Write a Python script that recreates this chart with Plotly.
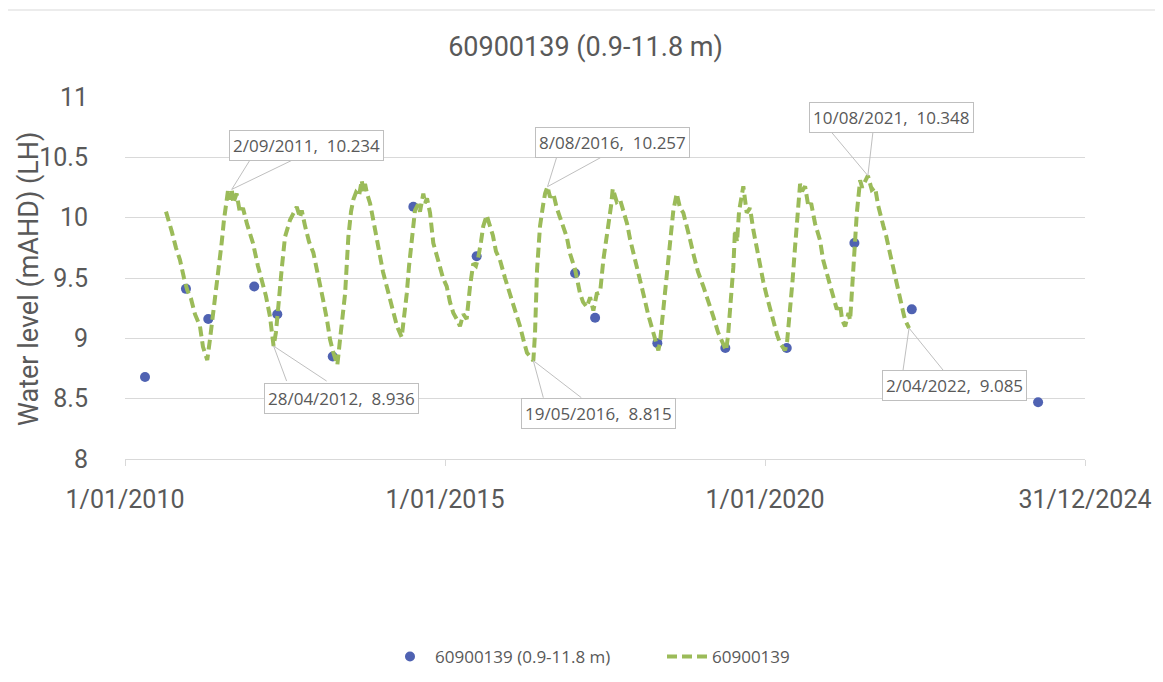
import datetime as dt
import plotly.graph_objects as go

# ---------------- data ----------------
# logger (continuous) series: decimal years and water level (mAHD)
line_years = [
    2010.641, 2010.677, 2010.734, 2010.797, 2010.859, 2010.922, 2010.973, 2011.031, 2011.094, 2011.172,
    2011.219, 2011.250, 2011.286, 2011.328, 2011.359, 2011.406, 2011.453, 2011.511, 2011.547, 2011.589,
    2011.609, 2011.625, 2011.669, 2011.692, 2011.745, 2011.797, 2011.844, 2011.906, 2012.000, 2012.078,
    2012.156, 2012.203, 2012.266, 2012.297, 2012.322, 2012.359, 2012.395, 2012.448, 2012.500, 2012.547,
    2012.578, 2012.625, 2012.683, 2012.734, 2012.761, 2012.813, 2012.875, 2012.942, 2013.016, 2013.094,
    2013.156, 2013.203, 2013.255, 2013.317, 2013.359, 2013.406, 2013.438, 2013.489, 2013.531, 2013.567,
    2013.609, 2013.656, 2013.698, 2013.723, 2013.750, 2013.781, 2013.828, 2013.875, 2013.922, 2013.984,
    2014.031, 2014.089, 2014.141, 2014.192, 2014.250, 2014.323, 2014.359, 2014.402, 2014.438, 2014.480,
    2014.531, 2014.578, 2014.609, 2014.661, 2014.688, 2014.719, 2014.766, 2014.817, 2014.859, 2014.922,
    2014.969, 2015.027, 2015.078, 2015.130, 2015.183, 2015.234, 2015.286, 2015.339, 2015.391, 2015.442,
    2015.484, 2015.520, 2015.563, 2015.598, 2015.652, 2015.703, 2015.750, 2015.797, 2015.859, 2015.938,
    2016.016, 2016.094, 2016.172, 2016.234, 2016.281, 2016.380, 2016.406, 2016.438, 2016.484, 2016.531,
    2016.563, 2016.600, 2016.641, 2016.692, 2016.745, 2016.797, 2016.844, 2016.901, 2016.953, 2017.031,
    2017.078, 2017.109, 2017.156, 2017.214, 2017.266, 2017.317, 2017.370, 2017.422, 2017.473, 2017.516,
    2017.552, 2017.594, 2017.620, 2017.641, 2017.683, 2017.734, 2017.786, 2017.844, 2017.891, 2017.942,
    2018.016, 2018.098, 2018.172, 2018.255, 2018.297, 2018.333, 2018.359, 2018.411, 2018.453, 2018.489,
    2018.531, 2018.567, 2018.620, 2018.672, 2018.723, 2018.781, 2018.828, 2018.880, 2018.953, 2019.036,
    2019.109, 2019.192, 2019.266, 2019.348, 2019.391, 2019.422, 2019.453, 2019.505, 2019.531, 2019.563,
    2019.594, 2019.625, 2019.661, 2019.714, 2019.766, 2019.817, 2019.870, 2019.922, 2019.973, 2020.027,
    2020.078, 2020.130, 2020.188, 2020.234, 2020.281, 2020.313, 2020.344, 2020.391, 2020.430, 2020.469,
    2020.508, 2020.547, 2020.578, 2020.625, 2020.677, 2020.719, 2020.781, 2020.859, 2020.906, 2020.964,
    2021.016, 2021.067, 2021.120, 2021.172, 2021.203, 2021.250, 2021.302, 2021.328, 2021.380, 2021.433,
    2021.484, 2021.516, 2021.606, 2021.641, 2021.667, 2021.719, 2021.766, 2021.848, 2021.891, 2021.953,
    2022.000, 2022.058, 2022.109, 2022.161, 2022.188, 2022.250,
]
line_levels = [
    10.05, 9.99, 9.88, 9.75, 9.65, 9.50, 9.40, 9.33, 9.20, 9.10,
    8.93, 8.88, 8.82, 8.99, 9.12, 9.29, 9.55, 9.79, 9.98, 10.17,
    10.22, 10.15, 10.234, 10.12, 10.20, 10.04, 10.08, 9.95, 9.79, 9.60,
    9.46, 9.35, 9.18, 9.02, 8.936, 9.05, 9.23, 9.57, 9.84, 9.93,
    9.98, 10.03, 10.09, 10.00, 10.06, 9.93, 9.80, 9.71, 9.50, 9.32,
    9.15, 8.99, 8.88, 8.78, 8.99, 9.20, 9.37, 9.84, 10.05, 10.15,
    10.21, 10.18, 10.31, 10.22, 10.28, 10.20, 10.12, 9.99, 9.85, 9.68,
    9.55, 9.43, 9.32, 9.21, 9.10, 9.01, 9.15, 9.37, 9.60, 9.79,
    10.06, 10.11, 10.05, 10.20, 10.12, 10.16, 10.04, 9.79, 9.70, 9.59,
    9.50, 9.43, 9.30, 9.21, 9.16, 9.10, 9.20, 9.16, 9.43, 9.62,
    9.60, 9.67, 9.80, 9.93, 10.02, 9.92, 9.85, 9.72, 9.65, 9.50,
    9.37, 9.22, 9.10, 8.97, 8.88, 8.815, 9.04, 9.57, 9.93, 10.10,
    10.20, 10.257, 10.17, 10.20, 10.08, 10.00, 9.92, 9.84, 9.70, 9.57,
    9.45, 9.37, 9.30, 9.26, 9.34, 9.23, 9.37, 9.38, 9.65, 9.80,
    9.93, 10.10, 10.24, 10.20, 10.13, 10.15, 10.05, 9.95, 9.82, 9.70,
    9.55, 9.37, 9.20, 9.04, 8.95, 8.90, 8.97, 9.23, 9.45, 9.65,
    9.88, 10.06, 10.20, 10.08, 10.04, 9.93, 9.82, 9.70, 9.55, 9.43,
    9.30, 9.18, 9.05, 8.94, 8.90, 9.02, 9.23, 9.59, 9.90, 9.80,
    10.05, 10.15, 10.26, 10.04, 10.08, 9.90, 9.75, 9.59, 9.47, 9.35,
    9.25, 9.12, 9.03, 8.96, 8.92, 8.90, 8.97, 9.21, 9.48, 9.76,
    10.02, 10.28, 10.22, 10.26, 10.09, 10.12, 9.95, 9.81, 9.65, 9.54,
    9.42, 9.35, 9.24, 9.28, 9.15, 9.10, 9.21, 9.15, 9.62, 10.04,
    10.31, 10.25, 10.348, 10.28, 10.23, 10.25, 10.10, 9.93, 9.85, 9.70,
    9.58, 9.46, 9.33, 9.21, 9.15, 9.085,
]

# manual readings
manual_years = [2010.313, 2010.953, 2011.302, 2012.020, 2012.380, 2013.245, 2014.505, 2015.495,
                2017.031, 2017.344, 2018.317, 2019.380, 2020.339, 2021.395, 2022.292, 2024.266]
manual_levels = [8.68, 9.41, 9.16, 9.43, 9.20, 8.85, 10.09, 9.68,
                 9.54, 9.17, 8.96, 8.92, 8.92, 9.79, 9.24, 8.47]

# labelled extremes
label_dates = ["2011-09-02", "2012-04-28", "2016-08-08", "2016-05-19", "2021-08-10", "2022-04-02"]
label_values = [10.234, 8.936, 10.257, 8.815, 10.348, 9.085]
label_texts = ["2/09/2011,  10.234", "28/04/2012,  8.936", "8/08/2016,  10.257",
               "19/05/2016,  8.815", "10/08/2021,  10.348", "2/04/2022,  9.085"]

tick_dates = ["2010-01-01", "2015-01-01", "2020-01-01", "2024-12-31"]
tick_texts = ["1/01/2010", "1/01/2015", "1/01/2020", "31/12/2024"]

title_text = "60900139 (0.9-11.8 m)"
manual_name = "60900139 (0.9-11.8 m)"
line_name = "60900139"
y_title = "Water level (mAHD) (LH)"


def to_date(y):
    yr = int(y)
    start = dt.datetime(yr, 1, 1)
    days = (dt.datetime(yr + 1, 1, 1) - start).days
    return start + dt.timedelta(days=(y - yr) * days)


line_x = [to_date(v) for v in line_years]
manual_x = [to_date(v) for v in manual_years]

# ---------------- style / layout ----------------
GREEN = "#9BBB59"
BLUE = "#4F62B2"
GREY_TXT = "#595959"
GRID = "#d9d9d9"
TICK_FONT = "Roboto, Open Sans, sans-serif"
ANN_FONT = "Open Sans, Roboto, sans-serif"

# page has an 8px body margin: figure is drawn from (8, 8)
W, H = 1155, 674
PL, PR, PT, PB = 117, 1077, 89, 451   # plot area in figure pixels
PW, PH = PR - PL, PB - PT


def px_x(sx):   # screen x -> paper fraction
    return (sx - 8 - PL) / PW


def px_y(sy):   # screen y -> paper fraction
    return (PB - (sy - 8)) / PH


# label box placement (pixel offsets from point) and leader endpoints
box_shift = [(75, 44), (68, -52), (65, 44), (65, -53), (24, 58), (45, -57)]
leader_ends = [((18, 29), (60, 29)), ((13, -35), (53, -35)), ((9, 29), (53, 29)),
               ((10, -37), (48, -37)), ((-36, 43), (5, 43)), ((-6, -42), (34, -42))]

fig = go.Figure()
fig.add_trace(go.Scatter(
    x=manual_x, y=manual_levels, mode="markers", name=manual_name,
    marker=dict(color=BLUE, size=10, line=dict(width=0)),
))
fig.add_trace(go.Scatter(
    x=line_x, y=line_levels, mode="lines", name=line_name,
    line=dict(color=GREEN, width=4, dash="10px,5px"),
))

shapes = []
for d, v, ends in zip(label_dates, label_values, leader_ends):
    for (dx, dy) in ends:
        shapes.append(dict(
            type="line", xref="x", yref="y", xsizemode="pixel", ysizemode="pixel",
            xanchor=d, yanchor=v, x0=0, y0=0, x1=dx, y1=dy,
            line=dict(color="#bfbfbf", width=1), layer="above",
        ))
# outer chart frame
shapes.append(dict(type="rect", xref="paper", yref="paper",
                   x0=px_x(3), x1=1.3, y0=-1.0, y1=px_y(10),
                   line=dict(color=GRID, width=1), layer="below"))

annotations = []
for d, v, t, (sx, sy) in zip(label_dates, label_values, label_texts, box_shift):
    annotations.append(dict(
        x=d, y=v, xref="x", yref="y", text=t, showarrow=False,
        xshift=sx, yshift=sy, font=dict(family=ANN_FONT, size=17, color=GREY_TXT),
        bgcolor="white", bordercolor="#bfbfbf", borderwidth=1, borderpad=3,
    ))
annotations.append(dict(
    x=px_x(29), y=px_y(279), xref="paper", yref="paper", text=y_title,
    textangle=-90, showarrow=False, xanchor="center", yanchor="middle",
    font=dict(family=TICK_FONT, size=27, color=GREY_TXT),
))

fig.update_layout(
    width=W, height=H,
    margin=dict(l=PL, r=W - PR, t=PT, b=H - PB, autoexpand=False),
    paper_bgcolor="white", plot_bgcolor="white",
    title=dict(text=title_text, x=0.5, xanchor="center", y=1 - (47 - 8) / H, yanchor="middle",
               font=dict(family=TICK_FONT, size=27, color=GREY_TXT)),
    showlegend=True,
    legend=dict(orientation="h", x=px_x(385), xanchor="left", y=px_y(657), yanchor="middle",
                font=dict(family=ANN_FONT, size=17, color=GREY_TXT), itemwidth=40,
                entrywidth=222, entrywidthmode="pixels",
                bgcolor="rgba(0,0,0,0)"),
    shapes=shapes,
    annotations=annotations,
)
fig.update_xaxes(
    type="date", range=["2010-01-01", "2024-12-31"], automargin=False,
    tickvals=tick_dates, ticktext=tick_texts,
    showgrid=False, showline=True, linecolor=GRID, linewidth=1,
    ticks="outside", ticklen=6, tickcolor=GRID,
    ticklabelstandoff=12,
    tickfont=dict(family=TICK_FONT, size=25, color=GREY_TXT),
    zeroline=False,
)
fig.update_yaxes(
    range=[8, 11], automargin=False, tickvals=[8, 8.5, 9, 9.5, 10, 10.5, 11],
    ticktext=["8", "8.5", "9", "9.5", "10", "10.5", "11"],
    showgrid=True, gridcolor=GRID, gridwidth=1, zeroline=False,
    showline=False, ticks="", ticklabelstandoff=36,
    tickfont=dict(family=TICK_FONT, size=25, color=GREY_TXT),
)

fig.write_html("out.html")
